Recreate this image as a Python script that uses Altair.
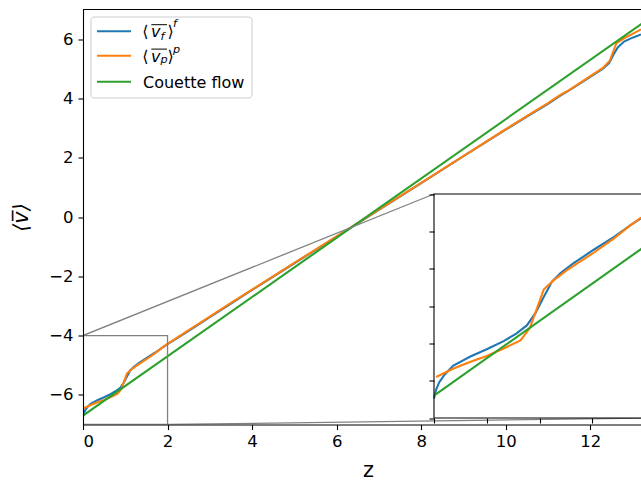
import altair as alt
import pandas as pd

# ---------------- data ----------------
z_f = [0.0, 0.02, 0.05, 0.1, 0.18, 0.34, 0.5, 0.66, 0.78, 0.88, 0.96, 1.04, 1.12, 1.2,
       1.32, 1.51, 1.7, 1.86, 2.0, 2.5, 3.0, 3.5, 4.0, 5.0, 6.0, 7.0, 8.0, 9.0, 10.0,
       10.5, 11.0, 11.3, 11.5, 12.0, 12.3, 12.45, 12.55, 12.65, 12.8, 13.0, 13.2]
v_f = [-6.74, -6.62, -6.52, -6.42, -6.30, -6.18, -6.08, -5.97, -5.87, -5.76, -5.60, -5.38,
       -5.17, -5.06, -4.93, -4.75, -4.58, -4.42, -4.29, -3.84, -3.38, -2.92, -2.46, -1.56,
       -0.66, 0.24, 1.14, 2.05, 2.95, 3.39, 3.82, 4.10, 4.27, 4.73, 5.00, 5.20, 5.48, 5.72,
       5.92, 6.05, 6.16]

z_p = [0.02, 0.18, 0.34, 0.5, 0.66, 0.82, 0.91, 1.04, 1.13, 1.26, 1.51, 1.7, 1.86, 2.0,
       2.5, 3.0, 3.5, 4.0, 5.0, 6.0, 7.0, 8.0, 9.0, 10.0, 10.5, 11.0, 11.3, 11.5, 12.0,
       12.3, 12.46, 12.62, 12.8, 13.0, 13.2]
v_p = [-6.45, -6.34, -6.25, -6.17, -6.07, -5.96, -5.79, -5.28, -5.16, -5.02, -4.79, -4.60,
       -4.42, -4.28, -3.82, -3.36, -2.90, -2.45, -1.55, -0.65, 0.25, 1.15, 2.05, 2.96, 3.40,
       3.84, 4.13, 4.28, 4.75, 5.03, 5.27, 5.87, 6.03, 6.18, 6.33]

z_c = [0.0, 13.4]
v_c = [-6.7, 6.7]

colors = ["#1f77b4", "#ff7f0e", "#2ca02c"]
couette_label = "Couette flow"
sub_labels = ["f", "p"]          # subscripts / superscripts of the two averages
y_title = "⟨v\u0305⟩"
x_title = "z"

x_ticks = [0, 2, 4, 6, 8, 10, 12]
y_ticks = [-6, -4, -2, 0, 2, 4, 6]
inset_x_ticks = [0, 0.5, 1.0, 1.5]
inset_y_ticks = [-7, -6.5, -6, -5.5, -5, -4.5, -4]
X_DOMAIN = [0, 13.2]
Y_DOMAIN = [-7, 7]
ZOOM_X = [0, 2]
ZOOM_Y = [-7, -4]

# ---------------- layout ----------------
W, H = 558, 415
PAD_L, PAD_T = 83, 9.5
IN_X0, IN_X1 = 351, 562        # inset box, pixels in the main plot area
IN_YB, IN_YT = 408.5, 184.5
FONT = "DejaVu Sans"
GRAY = "#808080"


def to_main_x(px):
    return X_DOMAIN[0] + px / W * (X_DOMAIN[1] - X_DOMAIN[0])


def to_main_y(py):
    return Y_DOMAIN[1] - py / H * (Y_DOMAIN[1] - Y_DOMAIN[0])


df_f = pd.DataFrame({"z": z_f, "v": v_f})
df_p = pd.DataFrame({"z": z_p, "v": v_p})
df_c = pd.DataFrame({"z": z_c, "v": v_c})
one = pd.DataFrame({"a": [0]})

axis_common = dict(grid=False, tickSize=5, tickWidth=1.1, tickColor="black",
                   domainColor="black", domainWidth=1.1, labelFont=FONT,
                   labelFontSize=16.5, labelColor="black", zindex=1)

xs = alt.Scale(domain=X_DOMAIN, nice=False, zero=False)
ys = alt.Scale(domain=Y_DOMAIN, nice=False, zero=False)
X = alt.X("z:Q", scale=xs, axis=alt.Axis(
    orient="bottom", values=x_ticks, title=x_title, labelPadding=4,
    titleFont=FONT, titleFontSize=20.8, titleFontWeight="normal", titleColor="black",
    titleX=285, titleY=52, titleBaseline="alphabetic", titleAlign="center",
    **axis_common))
Y = alt.Y("v:Q", scale=ys, axis=alt.Axis(
    orient="left", values=y_ticks, title=y_title, labelPadding=5,
    titleFont=FONT, titleFontSize=20.8, titleFontWeight="normal", titleColor="black",
    titleFontStyle="italic", titleX=-62, titleY=H / 2, titleAngle=270,
    titleAlign="center", titleBaseline="middle", **axis_common))
X2 = alt.X2("z2:Q")
Y2 = alt.Y2("v2:Q")

line_f = alt.Chart(df_f).mark_line(color=colors[0], strokeWidth=2.1, clip=True).encode(x=X, y=Y, order="z:Q")
line_p = alt.Chart(df_p).mark_line(color=colors[1], strokeWidth=2.1, clip=True).encode(x=X, y=Y, order="z:Q")
line_c = alt.Chart(df_c).mark_line(color=colors[2], strokeWidth=2.1, clip=True).encode(x=X, y=Y)

zoom_rect = alt.Chart(pd.DataFrame({"z": [ZOOM_X[0]], "z2": [ZOOM_X[1]],
                                    "v": [ZOOM_Y[0]], "v2": [ZOOM_Y[1]]})).mark_rect(
    fillOpacity=0, stroke=GRAY, strokeWidth=1.3, clip=True).encode(x=X, x2=X2, y=Y, y2=Y2)

conn = pd.DataFrame({
    "z": [ZOOM_X[0], ZOOM_X[1]],
    "v": [ZOOM_Y[1], ZOOM_Y[0]],
    "z2": [to_main_x(IN_X0), to_main_x(IN_X1)],
    "v2": [to_main_y(IN_YT), to_main_y(IN_YB)],
})
connectors = alt.Chart(conn).mark_rule(color=GRAY, strokeWidth=1.3, clip=True).encode(
    x=X, y=Y, x2=X2, y2=Y2)

top_spine = alt.Chart(one).mark_rule(color="black", strokeWidth=1.1).encode(
    x=alt.value(0), x2=alt.value(W), y=alt.value(0))

# ---------------- legend (hand built for the math labels) ----------------
legend_layers = [
    alt.Chart(one).mark_rect(fill="white", fillOpacity=0.8, stroke="#cccccc",
                             strokeWidth=1, cornerRadius=3).encode(
        x=alt.value(8), x2=alt.value(169), y=alt.value(7.5), y2=alt.value(88.5))
]
row_y = [21.8, 46.2, 72.2]
for i, c in enumerate(colors):
    legend_layers.append(alt.Chart(one).mark_rule(color=c, strokeWidth=2.1).encode(
        x=alt.value(14), x2=alt.value(48), y=alt.value(row_y[i])))


def txt(s, x, y, size=16, style="normal"):
    return alt.Chart(one).mark_text(text=s, font=FONT, fontSize=size, fontStyle=style,
                                    align="left", baseline="alphabetic", color="black").encode(
        x=alt.value(x), y=alt.value(y))


for i, s in enumerate(sub_labels):
    dy = row_y[i] - row_y[0]
    sub_base = 30.5 if s == "f" else 28.8
    sup_base = 17.8 if s == "f" else 19.3
    legend_layers += [
        txt("⟨", 59.3, 27.8 + dy),
        txt("v", 68, 27.8 + dy, style="italic"),
        txt(s, 77.5, sub_base + dy, size=11.2, style="italic"),
        txt("⟩", 84.5, 27.8 + dy),
        txt(s, 90, sup_base + dy, size=11.2, style="italic"),
        alt.Chart(one).mark_rule(color="black", strokeWidth=1).encode(
            x=alt.value(68.3), x2=alt.value(84), y=alt.value(15.2 + dy)),
    ]
legend_layers.append(txt(couette_label, 60, 78.5))

main = alt.layer(line_f, line_p, line_c, zoom_rect, connectors, top_spine, *legend_layers)

# ---------------- inset ----------------
ixs = alt.Scale(domain=ZOOM_X, range=[IN_X0, IN_X1], nice=False, zero=False)
iys = alt.Scale(domain=ZOOM_Y, range=[IN_YB, IN_YT], nice=False, zero=False)
IX = alt.X("z:Q", scale=ixs, axis=alt.Axis(orient="bottom", offset=-(H - IN_YB),
                                           values=inset_x_ticks, labels=False, domain=False,
                                           title=None, **axis_common))
IY = alt.Y("v:Q", scale=iys, axis=alt.Axis(orient="left", offset=-IN_X0,
                                           values=inset_y_ticks, labels=False, domain=False,
                                           title=None, **axis_common))
box_df = pd.DataFrame({"z": [ZOOM_X[0]], "z2": [ZOOM_X[1]], "v": [ZOOM_Y[0]], "v2": [ZOOM_Y[1]]})
in_bg = alt.Chart(box_df).mark_rect(fill="white", clip=True).encode(x=IX, x2=X2, y=IY, y2=Y2)
in_frame = alt.Chart(box_df).mark_rect(fillOpacity=0, stroke="black", strokeWidth=1.1,
                                       clip=True).encode(x=IX, x2=X2, y=IY, y2=Y2)
flt = f"datum.z <= {ZOOM_X[1]}"
in_f = alt.Chart(df_f).transform_filter(flt).mark_line(color=colors[0], strokeWidth=2.1, clip=True).encode(x=IX, y=IY, order="z:Q")
in_p = alt.Chart(df_p).transform_filter(flt).mark_line(color=colors[1], strokeWidth=2.1, clip=True).encode(x=IX, y=IY, order="z:Q")
in_c = alt.Chart(df_c).mark_line(color=colors[2], strokeWidth=2.1, clip=True).encode(x=IX, y=IY)
inset = alt.layer(in_bg, in_f, in_p, in_c, in_frame)

chart = alt.layer(main, inset).resolve_scale(x="independent", y="independent").properties(
    width=W, height=H,
    autosize=alt.AutoSizeParams(type="none"),
    padding={"left": PAD_L, "top": PAD_T, "right": 0, "bottom": 483 - PAD_T - H},
    background="white",
).configure_view(stroke=None)

chart.save("out.html", embed_options={"renderer": "svg", "actions": False})
